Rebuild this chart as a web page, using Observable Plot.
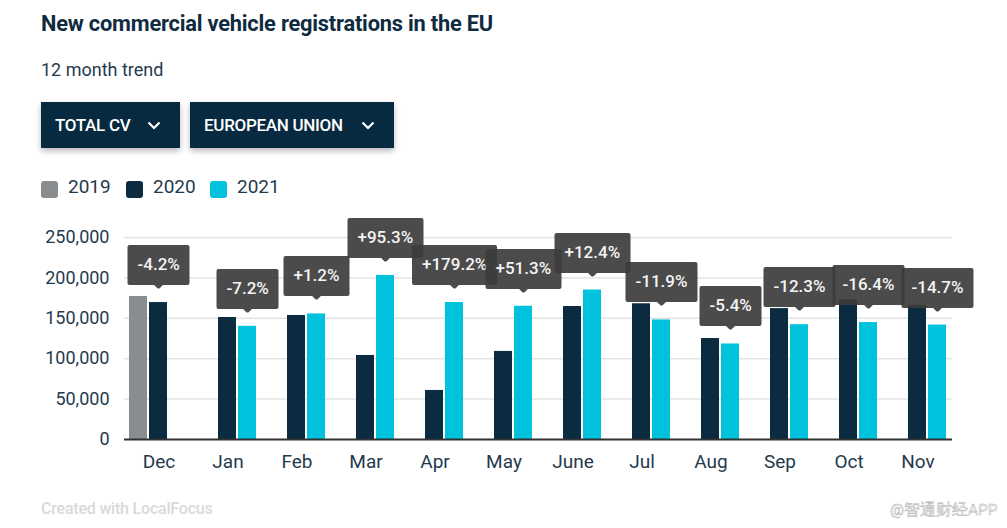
<!DOCTYPE html>
<html>
<head>
<meta charset="utf-8">
<script src="https://cdn.jsdelivr.net/npm/d3@7"></script>
<script src="https://cdn.jsdelivr.net/npm/@observablehq/plot@0.6"></script>
<style>
  html, body { margin: 0; padding: 0; background: #fff; width: 1007px; height: 528px; overflow: hidden; font-family: Roboto, "Noto Sans", sans-serif; }
  .abs { position: absolute; white-space: nowrap; }
  #title { left: 41px; top: 12.5px; font-size: 21.8px; line-height: 22px; font-weight: 700; color: #0f2b3f; letter-spacing: -0.2px; }
  #subtitle { left: 41px; top: 61px; font-size: 18px; line-height: 18px; color: #1f3a4d; }
  .btn { top: 102px; height: 46px; background: #072a40; color: #fff; box-shadow: 0 3px 6px rgba(0,0,0,0.28); font-size: 17px; font-weight: 500; line-height: 46px; box-sizing: border-box; padding-left: 14px; letter-spacing: -0.3px; }
  .btn svg { position: absolute; top: 19px; }
  #legend { left: 41px; top: 178px; height: 22px; font-size: 19px; color: #1f3a4d; }
  .sw { display: inline-block; width: 17px; height: 17px; border-radius: 3px; vertical-align: -2px; }
  .li { position: absolute; top: 0; }
  .li span.t { position: absolute; left: 27px; top: -1px; line-height: 20px; }
  #chart { position: absolute; left: 0; top: 200px; }
  #footer { left: 41px; top: 499px; font-size: 16px; font-weight: 500; color: #d9d9d9; letter-spacing: -0.2px; }
  #wm { left: 890px; top: 500px; font-size: 15.5px; color: #fff; -webkit-text-stroke: 0.6px #bbb; }
  #chart g[aria-label="tip"] text, #chart g[aria-label="tip"] tspan { fill: #f4f4f4 !important; }
  #chart g[aria-label="tip"] > g { opacity: 0.92; }
</style>
</head>
<body>
<div id="title" class="abs">New commercial vehicle registrations in the EU</div>
<div id="subtitle" class="abs">12 month trend</div>
<div class="abs btn" style="left:41px;width:139px;">TOTAL CV<svg width="14" height="9" style="left:106px"><polyline points="1.5,1.5 7,7 12.5,1.5" fill="none" stroke="#fff" stroke-width="2.2"/></svg></div>
<div class="abs btn" style="left:190px;width:204px;">EUROPEAN UNION<svg width="14" height="9" style="left:171px"><polyline points="1.5,1.5 7,7 12.5,1.5" fill="none" stroke="#fff" stroke-width="2.2"/></svg></div>
<div id="legend" class="abs"></div>
<div id="chart"></div>
<div id="footer" class="abs">Created with LocalFocus</div>
<div id="wm" class="abs">@智通财经APP</div>
<script>
const months = ["Dec","Jan","Feb","Mar","Apr","May","June","Jul","Aug","Sep","Oct","Nov"];
const years = ["2019","2020","2021"];
const yearColors = ["#8a8d8f","#0b2b40","#00c2dc"];
const values2019 = [177000, null, null, null, null, null, null, null, null, null, null, null];
const values2020 = [169500, 151000, 153500, 104000, 60700, 109000, 164600, 168000, 125000, 162000, 173000, 166000];
const values2021 = [null, 140100, 155400, 203000, 169500, 164900, 185000, 148000, 118200, 142100, 144700, 141600];
const changeLabels = ["-4.2%","-7.2%","+1.2%","+95.3%","+179.2%","+51.3%","+12.4%","-11.9%","-5.4%","-12.3%","-16.4%","-14.7%"];
const yTicks = [0, 50000, 100000, 150000, 200000, 250000];

// legend
const legend = document.getElementById("legend");
const legendX = [0, 85, 169];
years.forEach((y, i) => {
  const d = document.createElement("div");
  d.className = "li";
  d.style.left = legendX[i] + "px";
  d.innerHTML = `<span class="sw" style="background:${yearColors[i]}"></span><span class="t">${y}</span>`;
  legend.appendChild(d);
});

const series = [values2019, values2020, values2021];
const bars = [];
months.forEach((m, i) => {
  years.forEach((y, j) => {
    const v = series[j][i];
    if (v != null) bars.push({month: m, year: y, value: v});
  });
});
const tips = months.map((m, i) => {
  const y = values2021[i] != null ? "2021" : "2020";
  const v = y === "2021" ? values2021[i] : values2020[i];
  return {month: m, year: y, value: v, label: changeLabels[i]};
});

const chart = Plot.plot({
  width: 1007,
  height: 300,
  marginTop: 37,
  marginBottom: 61,
  marginLeft: 122,
  marginRight: 54,
  style: {fontFamily: "Roboto, sans-serif", overflow: "visible"},
  fx: {domain: months, paddingInner: 0, paddingOuter: 0, label: null},
  x: {domain: years, paddingInner: 0.095, paddingOuter: 0.198, axis: null},
  y: {domain: [0, 250000], label: null, axis: null},
  color: {domain: years, range: yearColors},
  marks: [
    Plot.gridY(yTicks, {stroke: "#e3e3e3", strokeOpacity: 1, strokeWidth: 1.5}),
    Plot.axisY(yTicks, {tickSize: 0, tickPadding: 15, tickFormat: d3.format(","), fontSize: 18, fill: "#1f3a4d", label: null}),
    Plot.axisFx({anchor: "bottom", tickSize: 0, tickPadding: 15, fontSize: 19, fill: "#1f3a4d", label: null}),
    Plot.barY(bars, {fx: "month", x: "year", y: "value", fill: "year"}),
    Plot.ruleY([0], {stroke: "#333", strokeWidth: 2}),
    Plot.tip(tips, {
      fx: "month", x: "year", y: "value", title: "label",
      anchor: "bottom", dy: -16, pointerSize: 7, textPadding: 8,
      fill: "#3c3c3c", stroke: "#3c3c3c", strokeWidth: 4, strokeLinejoin: "round",
      pathFilter: "none", fontSize: 17, fontWeight: 500, fontFamily: "Roboto, sans-serif", lineHeight: 1
    })
  ]
});
document.getElementById("chart").appendChild(chart);
</script>
</body>
</html>
